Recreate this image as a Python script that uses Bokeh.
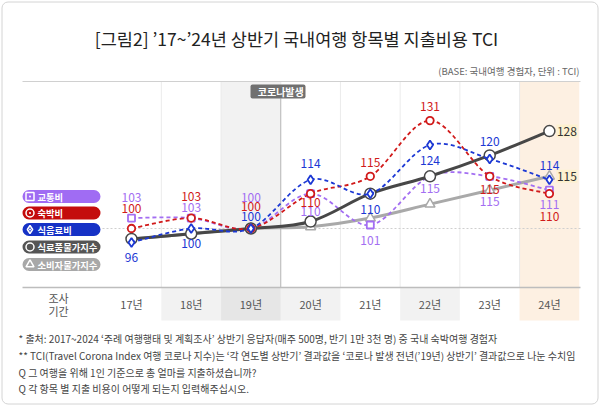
from bokeh.plotting import figure
from bokeh.models import ColumnDataSource
from bokeh.embed import file_html
from bokeh.resources import INLINE
from bokeh.core.properties import value

# ---------------- data ----------------
years = ["17년", "18년", "19년", "20년", "21년", "22년", "23년", "24년"]
transport = [103, 103, 100, 110, 101, 115, 115, 111]      # 교통비
lodging = [100, 103, 100, 110, 115, 131, 115, 110]        # 숙박비
food = [96, 100, 100, 114, 110, 124, 120, 114]            # 식음료비
grocery_idx = [97, 98.5, 100, 102, 110, 115, 121, 128]    # 식료품물가지수
cpi_idx = [97, 98.5, 100, 100.5, 103, 107, 111, 115]      # 소비자물가지수
series_names = ["교통비", "숙박비", "식음료비", "식료품물가지수", "소비자물가지수"]

title_text = "[그림2] ’17~’24년 상반기 국내여행 항목별 지출비용 TCI"
subtitle_text = "(BASE: 국내여행 경험자, 단위 : TCI)"
corona_text = "코로나발생"
notes = [
    "* 출처: 2017~2024 ‘주례 여행행태 및 계획조사’ 상반기 응답자(매주 500명, 반기 1만 3천 명) 중 국내 숙박여행 경험자",
    "** TCI(Travel Corona Index 여행 코로나 지수)는 ‘각 연도별 상반기’ 결과값을 ‘코로나 발생 전년(’19년) 상반기’ 결과값으로 나눈 수치임",
    "Q 그 여행을 위해 1인 기준으로 총 얼마를 지출하셨습니까?",
    "Q 각 항목 별 지출 비용이 어떻게 되는지 입력해주십시오.",
]

# label offsets in pixels (positive = below the point)
off_transport = [-20.6, -10.6, -31, 17.8, 15.5, 12.2, 25.2, 14.3]
off_lodging = [-20, -21.6, -22, 8.8, -13.8, -14, 13.2, 22.8]
off_food = [15, 15, -12, -16, 16, 15.5, -17.4, -14]

# ---------------- geometry ----------------
W, H = 600, 406
PAGE = 0
COLW = 59.7
X17 = 131.0
Y100 = 228.0
PXU = 3.48
FONT = value("Noto Sans CJK KR")


def X(px):
    return (px - X17) / COLW


def Y(py):
    return 100 + (Y100 - py) / PXU


p = figure(width=W, height=H,
           x_range=(X(PAGE), X(PAGE + W)), y_range=(Y(PAGE + H), Y(PAGE)),
           output_backend="svg", toolbar_location=None,
           x_axis_location=None, y_axis_location=None, min_border=0,
           background_fill_color="white", border_fill_color="white",
           outline_line_color=None)
p.xgrid.visible = False
p.ygrid.visible = False

n = len(years)
idx = list(range(n))

# card border
p.quad(left=[X(1.5)], right=[X(597.5)], bottom=[Y(403.5)], top=[Y(1.5)], fill_color=None,
       line_color="#d4d4d4", line_width=1, border_radius=6)

# background columns
p.quad(left=[1.5], right=[2.5], bottom=[Y(287)], top=[Y(81)], fill_color="#f2f2f2", line_color=None)
p.quad(left=[6.5], right=[7.5], bottom=[Y(320)], top=[Y(81)], fill_color="#fdf0e2", line_color=None)
light_cols = [1, 3, 5]
p.quad(left=[c - 0.5 for c in light_cols], right=[c + 0.5 for c in light_cols],
       bottom=Y(320), top=Y(287), fill_color="#f2f2f2", line_color=None)
p.quad(left=[1.5], right=[2.5], bottom=[Y(320)], top=[Y(287)], fill_color="#e6e6e6", line_color=None)

# vertical separators
bounds = [i + 0.5 for i in range(n - 1) if i != 2]
p.segment(x0=bounds, x1=bounds, y0=Y(81), y1=Y(287), line_color="#ebebeb", line_width=1)
p.segment(x0=[2.5], x1=[2.5], y0=[Y(81)], y1=[Y(98)], line_color="#ebebeb", line_width=1)
p.segment(x0=[2.5], x1=[2.5], y0=[Y(98)], y1=[Y(287)], line_color="#b5b5b5", line_width=1)

# horizontal rules
p.segment(x0=[X(22)], x1=[X(580)], y0=[Y(81)], y1=[Y(81)], line_color="#d0d0d0", line_width=1)
p.segment(x0=[X(22)], x1=[X(580)], y0=[Y(287)], y1=[Y(287)], line_color="#bdbdbd", line_width=1.5)
# baseline 100
p.segment(x0=[X(102)], x1=[X(580)], y0=[100], y1=[100], line_color="#cfcfcf", line_width=1, line_dash="2 2")


def bez(vals):
    m = len(vals)
    d = dict(x0=[], y0=[], x1=[], y1=[], cx0=[], cy0=[], cx1=[], cy1=[])
    for i in range(m - 1):
        pm = max(i - 1, 0)
        pp = min(i + 2, m - 1)
        d["x0"].append(i)
        d["y0"].append(vals[i])
        d["x1"].append(i + 1)
        d["y1"].append(vals[i + 1])
        d["cx0"].append(i + (i + 1 - pm) / 6)
        d["cy0"].append(vals[i] + (vals[i + 1] - vals[pm]) / 6)
        d["cx1"].append(i + 1 - (pp - i) / 6)
        d["cy1"].append(vals[i + 1] - (vals[pp] - vals[i]) / 6)
    return ColumnDataSource(d)


C_PUR = "#a36ef2"
C_RED = "#d11a1a"
C_BLU = "#1c38d4"
C_DRK = "#474747"
C_LGT = "#a9a9a9"

# consumer price index (light gray)
p.bezier(x0="x0", y0="y0", x1="x1", y1="y1", cx0="cx0", cy0="cy0", cx1="cx1", cy1="cy1",
         source=bez(cpi_idx), line_color=C_LGT, line_width=3)
p.scatter(idx, cpi_idx, marker="triangle", size=10, fill_color="white", line_color=C_LGT, line_width=1.5)

# transport (purple)
p.bezier(x0="x0", y0="y0", x1="x1", y1="y1", cx0="cx0", cy0="cy0", cx1="cx1", cy1="cy1",
         source=bez(transport), line_color=C_PUR, line_width=1.8, line_dash="4 3")
p.scatter(idx, transport, marker="square", size=7, fill_color="white", line_color=C_PUR, line_width=1.8)

# grocery index (dark gray)
p.bezier(x0="x0", y0="y0", x1="x1", y1="y1", cx0="cx0", cy0="cy0", cx1="cx1", cy1="cy1",
         source=bez(grocery_idx), line_color=C_DRK, line_width=3)
p.scatter(idx, grocery_idx, marker="circle", size=11, fill_color="white", line_color=C_DRK, line_width=1.5)

# lodging (red)
p.bezier(x0="x0", y0="y0", x1="x1", y1="y1", cx0="cx0", cy0="cy0", cx1="cx1", cy1="cy1",
         source=bez(lodging), line_color=C_RED, line_width=1.8, line_dash="4 3")
p.scatter(idx, lodging, marker="circle", size=7.5, fill_color="white", line_color=C_RED, line_width=1.8)

# food (blue)
p.bezier(x0="x0", y0="y0", x1="x1", y1="y1", cx0="cx0", cy0="cy0", cx1="cx1", cy1="cy1",
         source=bez(food), line_color=C_BLU, line_width=1.8, line_dash="4 3")
p.scatter(idx, food, marker="diamond", size=9, fill_color="white", line_color=C_BLU, line_width=1.8)

# value labels
for vals, offs, col in [(transport, off_transport, C_PUR), (lodging, off_lodging, C_RED), (food, off_food, C_BLU)]:
    p.text(x=idx, y=[v - o / PXU for v, o in zip(vals, offs)], text=[str(v) for v in vals],
           text_font=FONT, text_font_size="12px", text_align="center", text_baseline="middle",
           text_color=col)

# end labels for indexes
end_x = (n - 1) + 17.5 / COLW
for vals in [grocery_idx, cpi_idx]:
    p.rect(x=[end_x], y=[vals[-1]], width=21, height=13, width_units="screen", height_units="screen",
           fill_color="#fdf1cf", line_color=None)
    p.text(x=[end_x], y=[vals[-1]], text=[str(round(vals[-1]))], text_font=FONT, text_font_size="12px",
           text_align="center", text_baseline="middle", text_color="#333333")

# legend pills
leg_y = [196, 212.5, 229, 246.5, 264]
leg_col = ["#a06cf3", "#c40c0c", "#1632c6", "#555555", "#a8a8a8"]
leg_mark = ["square_dot", "circle_dot", "diamond_dot", "circle", "triangle"]
for name, cy, col, mk in zip(series_names, leg_y, leg_col, leg_mark):
    p.quad(left=[X(22)], right=[X(100)], top=[Y(cy - 6.5)], bottom=[Y(cy + 6.5)], border_radius=7,
           fill_color=col, line_color=None)
    p.scatter([X(29.5)], [Y(cy)], marker=mk, size=8, fill_alpha=0, line_color="white", line_width=1.5)
    p.text(x=[X(37)], y=[Y(cy)], text=[name], text_font=FONT, text_font_size="9.3px", text_font_style="bold",
           text_align="left", text_baseline="middle", text_color="white")

# corona marker
p.quad(left=[X(250)], right=[X(305)], top=[Y(84)], bottom=[Y(98)], border_radius=2,
       fill_color="#707070", line_color=None)
p.text(x=[2.5], y=[Y(91)], text=[corona_text], text_font=FONT, text_font_size="10px", text_font_style="bold",
       text_align="center", text_baseline="middle", text_color="white")

# title / subtitle
p.text(x=[X(296)], y=[Y(38)], text=[title_text], text_font=FONT, text_font_size="17.5px",
       text_align="center", text_baseline="middle", text_color="#222222")
p.text(x=[X(579)], y=[Y(70)], text=[subtitle_text], text_font=FONT, text_font_size="9.5px",
       text_align="right", text_baseline="middle", text_color="#666666")

# x categories
p.text(x=idx, y=[Y(303)] * n, text=years, text_font=FONT, text_font_size="11px",
       text_align="center", text_baseline="middle", text_color="#555555")
p.text(x=[X(58), X(58)], y=[Y(297), Y(310)], text=["조사", "기간"], text_font=FONT, text_font_size="11px",
       text_align="center", text_baseline="middle", text_color="#555555")

# footnotes
p.text(x=[X(18)] * 4, y=[Y(338), Y(355), Y(372), Y(388)], text=notes, text_font=FONT,
       text_font_size="10px", text_align="left", text_baseline="middle", text_color="#444444")

open("out.html", "w").write(file_html(p, INLINE))
